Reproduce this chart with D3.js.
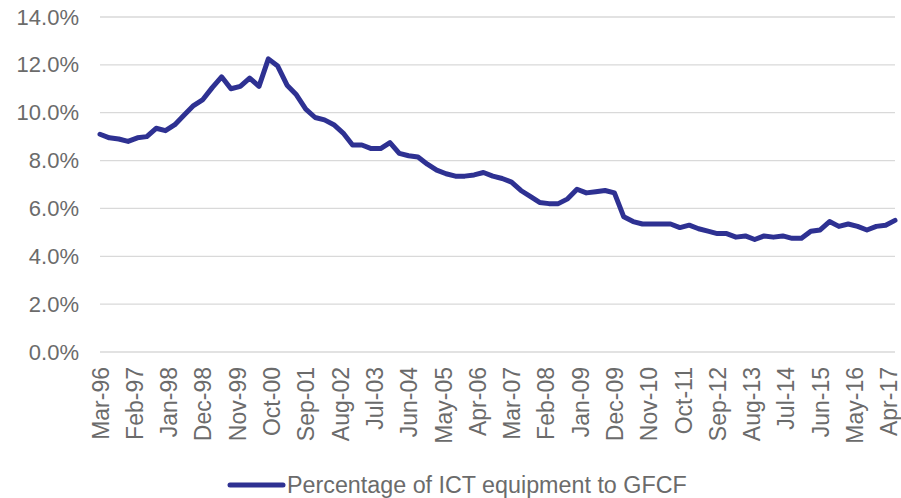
<!DOCTYPE html>
<html lang="en">
  <head>
    <meta charset="utf-8">
    <script src="https://d3js.org/d3.v7.min.js"></script>
    <style>
      body { margin: 0; background: #fff; }
      text { font-family: "Liberation Sans", Arial, sans-serif; fill: #6b6b6b; }
    </style>
  </head>
<body>
  <div id="chart"></div>
  <script>
    // plot setup
    var width = 901;
    var height = 498;
    var margin = {top: 17, right: 6, bottom: 146, left: 100};

    // data: quarterly, starting Mar-96
    var startMonth = "Mar-96";
    var seriesName = "Percentage of ICT equipment to GFCF";
    var values = [
      9.1, 8.95, 8.9, 8.8, 8.95, 9.0, 9.35, 9.25, 9.5, 9.9,
      10.3, 10.55, 11.05, 11.5, 11.0, 11.1, 11.45, 11.1, 12.25, 11.95,
      11.15, 10.75, 10.15, 9.8, 9.7, 9.5, 9.15, 8.65, 8.65, 8.5,
      8.5, 8.75, 8.3, 8.2, 8.15, 7.85, 7.6, 7.45, 7.35, 7.35,
      7.4, 7.5, 7.35, 7.25, 7.1, 6.75, 6.5, 6.25, 6.2, 6.2,
      6.4, 6.8, 6.65, 6.7, 6.75, 6.65, 5.65, 5.45, 5.35, 5.35,
      5.35, 5.35, 5.2, 5.3, 5.15, 5.05, 4.95, 4.95, 4.8, 4.85,
      4.7, 4.85, 4.8, 4.85, 4.75, 4.75, 5.05, 5.1, 5.45, 5.25,
      5.35, 5.25, 5.1, 5.25, 5.3, 5.5
    ];
    var tickLabels = ["Mar-96", "Feb-97", "Jan-98", "Dec-98", "Nov-99", "Oct-00",
      "Sep-01", "Aug-02", "Jul-03", "Jun-04", "May-05", "Apr-06", "Mar-07",
      "Feb-08", "Jan-09", "Dec-09", "Nov-10", "Oct-11", "Sep-12", "Aug-13",
      "Jul-14", "Jun-15", "May-16", "Apr-17"];
    var yTicks = [0, 2, 4, 6, 8, 10, 12, 14];

    var parseMonth = d3.timeParse("%b-%y");
    var start = parseMonth(startMonth);
    function monthIndex(date) {
      return (date.getFullYear() - start.getFullYear()) * 12 + date.getMonth() - start.getMonth();
    }

    var data = values.map(function(v, i) {
      return {date: d3.timeMonth.offset(start, i * 3), value: v};
    });

    var svg = d3.select("#chart")
                .append("svg")
                .attr("width", width)
                .attr("height", height);

    // scales
    var xScale = d3.scaleLinear()
                   .domain([0, monthIndex(data[data.length - 1].date)])
                   .range([margin.left, width - margin.right]);

    var yScale = d3.scaleLinear()
                   .domain([0, 14])
                   .range([height - margin.bottom, margin.top]);

    // gridlines
    svg.append("g")
       .attr("class", "grid")
       .selectAll("line")
       .data(yTicks)
       .enter()
       .append("line")
       .attr("x1", margin.left)
       .attr("x2", width - margin.right)
       .attr("y1", function(d) { return yScale(d); })
       .attr("y2", function(d) { return yScale(d); })
       .attr("stroke", "#d9d9d9")
       .attr("stroke-width", 1.3);

    // y axis
    var yAxis = d3.axisLeft(yScale)
                  .tickValues(yTicks)
                  .tickSize(0)
                  .tickPadding(21)
                  .tickFormat(function(d) { return d.toFixed(1) + "%"; });

    var gy = svg.append("g")
       .attr("transform", "translate(" + margin.left + ",0)")
       .call(yAxis);
    gy.select(".domain").remove();
    gy.selectAll("text")
      .attr("font-size", 22)
      .attr("fill", "#6b6b6b")
      .style("font-family", "'Liberation Sans', Arial, sans-serif");

    // x axis
    var xAxis = d3.axisBottom(xScale)
                  .tickValues(tickLabels.map(function(t) { return monthIndex(parseMonth(t)); }))
                  .tickSize(0)
                  .tickFormat(function(d, i) { return tickLabels[i]; });

    var gx = svg.append("g")
       .attr("transform", "translate(0," + (height - margin.bottom) + ")")
       .call(xAxis);
    gx.select(".domain").remove();
    gx.selectAll("text")
      .attr("font-size", 23)
      .attr("fill", "#6b6b6b")
      .style("font-family", "'Liberation Sans', Arial, sans-serif")
      .attr("text-anchor", "end")
      .attr("dy", "0.35em")
      .attr("transform", "translate(0,15) rotate(-90)")
      .attr("x", 0)
      .attr("y", 0);

    // line
    var line = d3.line()
        .x(function(d) { return xScale(monthIndex(d.date)); })
        .y(function(d) { return yScale(d.value); });

    svg.append("path")
       .datum(data)
       .attr("d", line)
       .attr("fill", "none")
       .attr("stroke", "#2e3192")
       .attr("stroke-width", 5)
       .attr("stroke-linejoin", "round")
       .attr("stroke-linecap", "round");

    // legend
    var legend = svg.append("g").attr("transform", "translate(230,485)");
    legend.append("line")
          .attr("x1", 0)
          .attr("x2", 53)
          .attr("stroke", "#2e3192")
          .attr("stroke-width", 5)
          .attr("stroke-linecap", "round");
    legend.append("text")
          .attr("x", 57)
          .attr("dy", "0.35em")
          .attr("font-size", 23.3)
          .attr("fill", "#6b6b6b")
          .text(seriesName);
  </script>
</body>
</html>
